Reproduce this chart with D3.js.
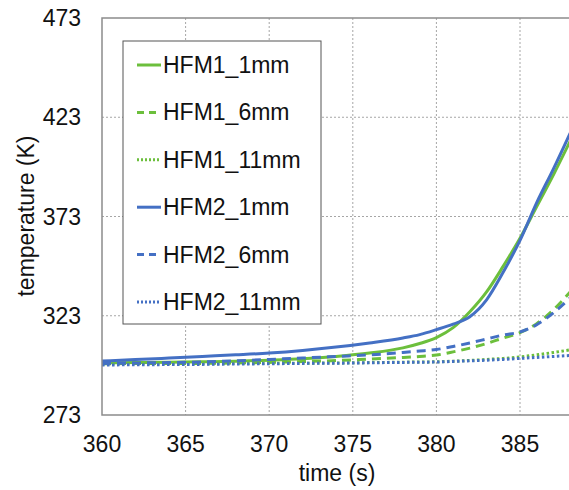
<!DOCTYPE html>
<html>
<head>
<meta charset="utf-8">
<script src="https://cdn.jsdelivr.net/npm/d3@7"></script>
<style>
  body { margin: 0; background: #fff; }
  svg { display: block; font-family: "Liberation Sans", Arial, sans-serif; }
  .grid line { stroke: #a6a6a6; stroke-width: 1; stroke-dasharray: 2,2; }
  .tick-label { font-size: 23px; fill: #111; }
  .axis-title { font-size: 23px; fill: #111; }
  .legend text { font-size: 23px; fill: #111; }
</style>
</head>
<body>
<div id="chart"></div>
<script>
// time axis (s)
const times = [360, 362, 364, 366, 368, 370, 372, 374, 376, 378, 379, 380, 381, 382, 383, 384, 385, 386, 387, 388];

// temperatures (K)
const hfm1_1mm  = [299.3, 299.4, 299.6, 299.8, 300.1, 300.6, 301.3, 302.5, 304.2, 306.8, 309.0, 312.0, 317.0, 325.0, 335.0, 348.0, 362.0, 378.0, 394.0, 411.0];
const hfm1_6mm  = [298.8, 298.9, 298.9, 299.0, 299.2, 299.5, 299.9, 300.4, 301.2, 302.0, 302.5, 303.2, 304.8, 306.7, 309.0, 311.8, 314.5, 319.0, 326.0, 335.0];
const hfm1_11mm = [298.6, 298.7, 298.7, 298.8, 298.9, 299.0, 299.1, 299.2, 299.4, 299.6, 299.7, 299.8, 300.1, 300.5, 301.0, 301.5, 302.3, 303.3, 304.5, 305.8];
const hfm2_1mm  = [300.2, 300.9, 301.7, 302.5, 303.3, 304.2, 305.5, 307.2, 309.3, 311.8, 313.5, 316.0, 318.8, 322.5, 331.0, 345.0, 361.0, 380.0, 397.0, 415.0];
const hfm2_6mm  = [299.0, 299.2, 299.4, 299.7, 300.3, 301.0, 301.7, 302.5, 303.3, 304.5, 305.2, 306.0, 307.5, 309.3, 311.3, 313.3, 314.8, 318.5, 324.5, 332.0];
const hfm2_11mm = [298.2, 298.3, 298.4, 298.5, 298.7, 298.8, 299.0, 299.1, 299.3, 299.5, 299.6, 299.7, 300.0, 300.3, 300.6, 301.0, 301.5, 302.0, 302.5, 303.0];

const xTicks = [360, 365, 370, 375, 380, 385];
const yTicks = [273, 323, 373, 423, 473];

const GREEN = '#6cbf3c';
const BLUE = '#4470c4';

const series = [
  { name: 'HFM1_1mm',  values: hfm1_1mm,  color: GREEN, dash: null },
  { name: 'HFM1_6mm',  values: hfm1_6mm,  color: GREEN, dash: '9,6' },
  { name: 'HFM1_11mm', values: hfm1_11mm, color: GREEN, dash: '2.5,2.5' },
  { name: 'HFM2_1mm',  values: hfm2_1mm,  color: BLUE,  dash: null },
  { name: 'HFM2_6mm',  values: hfm2_6mm,  color: BLUE,  dash: '9,6' },
  { name: 'HFM2_11mm', values: hfm2_11mm, color: BLUE,  dash: '2.5,2.5' }
];

class TempChart {
  constructor(el) {
    this.el = el;
    this.width = 569;
    this.height = 490;
    this.plot = { left: 102, top: 18, bottom: 415 };
  }

  render() {
    this.svg = d3.select(this.el).append('svg')
        .attr('width', this.width)
        .attr('height', this.height);

    // the picture is cut off on the right, so the axis runs past the edge
    this.x = d3.scaleLinear()
        .domain([360, 390])
        .range([this.plot.left, this.plot.left + 30 * 16.72]);
    this.y = d3.scaleLinear()
        .domain([273, 473])
        .range([this.plot.bottom, this.plot.top]);

    this.drawGrid();
    this.drawLines();
    this.drawFrame();
    this.drawLabels();
    this.drawLegend();
  }

  drawGrid() {
    const grid = this.svg.append('g').attr('class', 'grid');

    grid.selectAll('line.v')
        .data(xTicks.slice(1))
      .enter().append('line')
        .attr('class', 'v')
        .attr('x1', d => this.x(d)).attr('x2', d => this.x(d))
        .attr('y1', this.plot.top).attr('y2', this.plot.bottom);

    grid.selectAll('line.h')
        .data(yTicks.slice(1, -1))
      .enter().append('line')
        .attr('class', 'h')
        .attr('x1', this.plot.left).attr('x2', this.width)
        .attr('y1', d => this.y(d)).attr('y2', d => this.y(d));
  }

  drawFrame() {
    const right = this.x(390);
    this.svg.append('path')
        .attr('d', `M${right},${this.plot.top}H${this.plot.left}V${this.plot.bottom}H${right}`)
        .attr('fill', 'none')
        .attr('stroke', '#8c8c8c')
        .attr('stroke-width', 1.5);
  }

  drawLines() {
    const line = d3.line()
        .x((d, i) => this.x(times[i]))
        .y(d => this.y(d))
        .curve(d3.curveMonotoneX);

    this.svg.append('g')
      .selectAll('path')
        .data(series)
      .enter().append('path')
        .attr('d', d => line(d.values))
        .attr('fill', 'none')
        .attr('stroke', d => d.color)
        .attr('stroke-width', 3)
        .attr('stroke-dasharray', d => d.dash);
  }

  drawLabels() {
    this.svg.append('g')
      .selectAll('text')
        .data(xTicks)
      .enter().append('text')
        .attr('class', 'tick-label')
        .attr('x', d => this.x(d))
        .attr('y', 452)
        .attr('text-anchor', 'middle')
        .text(d => d);

    this.svg.append('g')
      .selectAll('text')
        .data(yTicks)
      .enter().append('text')
        .attr('class', 'tick-label')
        .attr('x', 81)
        .attr('y', d => this.y(d) + 8)
        .attr('text-anchor', 'end')
        .text(d => d);

    this.svg.append('text')
        .attr('class', 'axis-title')
        .attr('x', 337)
        .attr('y', 481)
        .attr('text-anchor', 'middle')
        .text('time (s)');

    this.svg.append('text')
        .attr('class', 'axis-title')
        .attr('transform', 'translate(34,216) rotate(-90)')
        .attr('text-anchor', 'middle')
        .text('temperature (K)');
  }

  drawLegend() {
    const legend = this.svg.append('g')
        .attr('class', 'legend')
        .attr('transform', 'translate(123,41)');

    legend.append('rect')
        .attr('width', 198)
        .attr('height', 283)
        .attr('fill', '#fff')
        .attr('stroke', '#555')
        .attr('stroke-width', 1);

    const item = legend.selectAll('g.item')
        .data(series)
      .enter().append('g')
        .attr('class', 'item')
        .attr('transform', (d, i) => `translate(0,${24 + i * 47.4})`);

    item.append('line')
        .attr('x1', 14).attr('x2', 38)
        .attr('stroke', d => d.color)
        .attr('stroke-width', 3)
        .attr('stroke-dasharray', d => d.dash ? (d.dash === '9,6' ? '7,5' : '2,2') : null);

    item.append('text')
        .attr('x', 40)
        .attr('y', 8)
        .text(d => d.name);
  }
}

new TempChart('#chart').render();
</script>
</body>
</html>
